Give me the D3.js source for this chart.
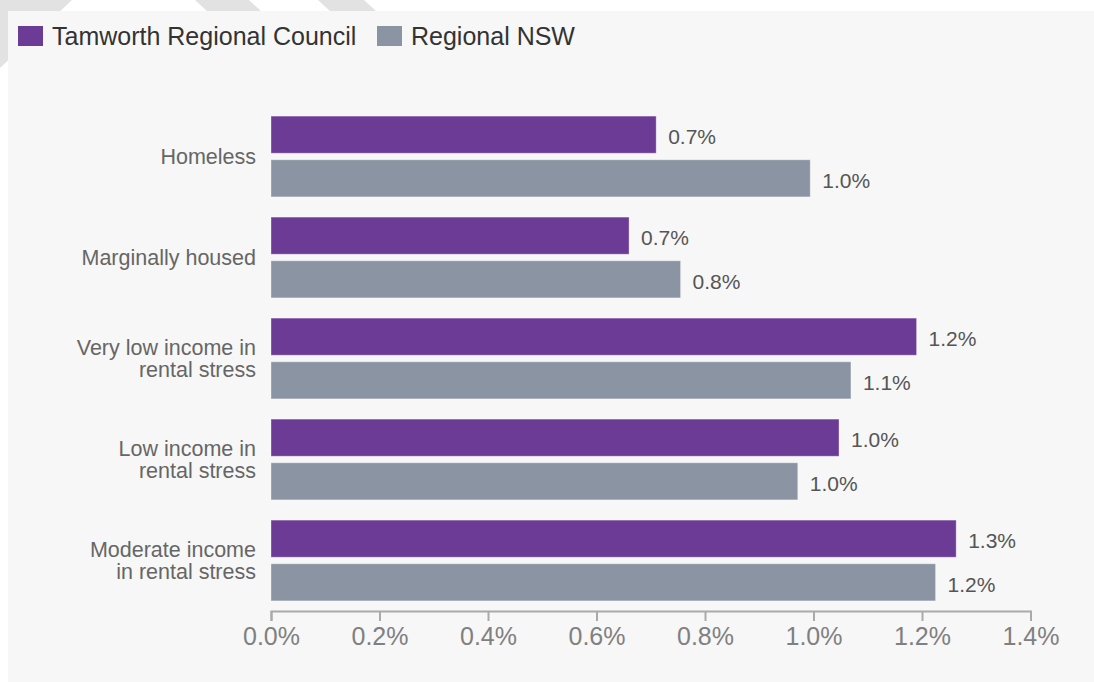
<!DOCTYPE html>
<html>
<head>
<meta charset="utf-8">
<script src="https://cdn.jsdelivr.net/npm/d3@7"></script>
<style>
  html, body { margin: 0; padding: 0; background: #fff; }
  svg { display: block; font-family: "Liberation Sans", Arial, sans-serif; }
</style>
</head>
<body>
<script>
var categories = ["Homeless", "Marginally housed", "Very low income in\nrental stress",
                  "Low income in\nrental stress", "Moderate income\nin rental stress"];
var seriesNames = ["Tamworth Regional Council", "Regional NSW"];
var seriesColors = ["#6b3b96", "#8a94a3"];
var tamworth = [0.71, 0.66, 1.19, 1.047, 1.263];
var regional = [0.994, 0.755, 1.069, 0.971, 1.225];
var tickValues = [0, 0.2, 0.4, 0.6, 0.8, 1.0, 1.2, 1.4];

var width = 1094;
var height = 682;

var svg = d3.select("body").append("svg")
            .attr("width", width)
            .attr("height", height);

// faint stripes behind the panel
var stripes = [
  [[0, 0], [72, 0], [0, 68]],
  [[195, 0], [249, 0], [262, 12], [208, 12]],
  [[318, 0], [364, 0], [377, 12], [331, 12]]
];
svg.selectAll("polygon.stripe")
   .data(stripes)
   .enter().append("polygon")
   .attr("class", "stripe")
   .attr("points", function(d){ return d.map(function(p){ return p.join(","); }).join(" "); })
   .attr("fill", "#e2e2e2");

svg.append("rect")
   .attr("x", 8).attr("y", 11)
   .attr("width", width - 8).attr("height", height - 11)
   .attr("fill", "#f7f7f7");

// legend
var legendX = [18, 377];
var legend = svg.selectAll("g.legend")
                .data(seriesNames)
                .enter().append("g")
                .attr("class", "legend")
                .attr("transform", function(d, i){ return "translate(" + legendX[i] + ",26)"; });
legend.append("rect")
      .attr("width", 25).attr("height", 20)
      .attr("fill", function(d, i){ return seriesColors[i]; });
legend.append("text")
      .attr("x", 34).attr("y", 10)
      .attr("dy", "0.35em")
      .attr("font-size", 25)
      .attr("fill", "#333")
      .text(function(d){ return d; });

var x = d3.scaleLinear().domain([0, 1.4]).range([271, 1030.5]);
var y = d3.scaleBand().domain(categories).range([106, 611])
          .paddingInner(0.2).paddingOuter(0.1);
var yInner = d3.scaleBand().domain([0, 1]).range([0, y.bandwidth()]).paddingInner(0.15);

var rows = categories.map(function(c, i){ return {cat: c, vals: [tamworth[i], regional[i]]}; });

var group = svg.selectAll("g.group")
               .data(rows)
               .enter().append("g")
               .attr("class", "group")
               .attr("transform", function(d){ return "translate(0," + y(d.cat) + ")"; });

var cell = group.selectAll("g.bar")
                .data(function(d){ return d.vals; })
                .enter().append("g")
                .attr("class", "bar");

cell.append("rect")
    .attr("x", x(0))
    .attr("y", function(d, i){ return yInner(i); })
    .attr("width", function(d){ return x(d) - x(0); })
    .attr("height", yInner.bandwidth())
    .attr("fill", function(d, i){ return seriesColors[i]; })
    .attr("stroke", "#ffffff")
    .attr("stroke-opacity", 0.35)
    .attr("stroke-width", 1);

cell.append("text")
    .attr("x", function(d){ return x(d) + 12; })
    .attr("y", function(d, i){ return yInner(i) + yInner.bandwidth() / 2 + 2; })
    .attr("dy", "0.35em")
    .attr("font-size", 21)
    .attr("fill", "#555")
    .text(function(d){ return d.toFixed(1) + "%"; });

// category labels
var labels = group.append("text")
                  .attr("text-anchor", "end")
                  .attr("font-size", 21.5)
                  .attr("fill", "#666");
labels.each(function(d){
  var lines = d.cat.split("\n");
  var t = d3.select(this);
  lines.forEach(function(line, k){
    t.append("tspan")
     .attr("x", 256)
     .attr("y", y.bandwidth() / 2 + (k - (lines.length - 1) / 2) * 22)
     .attr("dy", "0.35em")
     .text(line);
  });
});

// x axis
var axis = svg.append("g")
              .attr("transform", "translate(0,611)")
              .call(d3.axisBottom(x)
                      .tickValues(tickValues)
                      .tickSize(10)
                      .tickSizeOuter(10)
                      .tickPadding(6)
                      .tickFormat(function(d){ return d.toFixed(1) + "%"; }));
axis.select(".domain").attr("stroke", "#aaa").attr("stroke-width", 2);
axis.selectAll(".tick line").attr("stroke", "#aaa").attr("stroke-width", 2);
axis.selectAll(".tick text")
    .attr("font-size", 25)
    .attr("font-family", "Liberation Sans, Arial, sans-serif")
    .attr("fill", "#808080");
</script>
</body>
</html>
